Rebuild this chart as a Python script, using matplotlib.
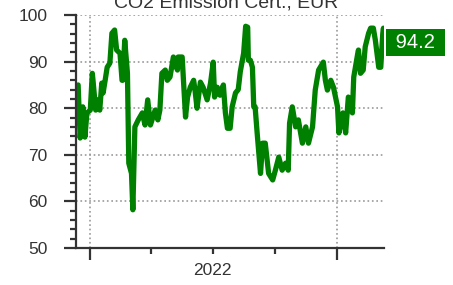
import pandas as pd
import matplotlib.pyplot as plt
import matplotlib.dates as mdates
import matplotlib.transforms as mtransforms
from matplotlib.ticker import MultipleLocator, FuncFormatter, NullFormatter

plt.rcParams['font.family'] = ['Liberation Sans', 'DejaVu Sans']

TITLE = "CO2 Emission Cert., EUR"
LAST_LABEL = "94.2"

dates = [
    "2021-12-14", "2021-12-17", "2021-12-21", "2021-12-24", "2021-12-27", "2022-01-01",
    "2022-01-04", "2022-01-05", "2022-01-09", "2022-01-12", "2022-01-15", "2022-01-18",
    "2022-01-20", "2022-01-23", "2022-01-26", "2022-01-30", "2022-02-02", "2022-02-06",
    "2022-02-09", "2022-02-14", "2022-02-17", "2022-02-18", "2022-02-21", "2022-02-25",
    "2022-02-27", "2022-03-03", "2022-03-05", "2022-03-08", "2022-03-13", "2022-03-19",
    "2022-03-23", "2022-03-27", "2022-03-31", "2022-04-07", "2022-04-11", "2022-04-14",
    "2022-04-17", "2022-04-22", "2022-04-25", "2022-04-29", "2022-05-04", "2022-05-10",
    "2022-05-11", "2022-05-17", "2022-05-22", "2022-05-25", "2022-05-29", "2022-06-03",
    "2022-06-05", "2022-06-08", "2022-06-13", "2022-06-17", "2022-06-23", "2022-06-28",
    "2022-07-02", "2022-07-04", "2022-07-08", "2022-07-12", "2022-07-17", "2022-07-20",
    "2022-07-23", "2022-07-27", "2022-07-30", "2022-08-04", "2022-08-08", "2022-08-11",
    "2022-08-16", "2022-08-19", "2022-08-22", "2022-08-23", "2022-08-26", "2022-08-29",
    "2022-08-31", "2022-09-02", "2022-09-05", "2022-09-10", "2022-09-13", "2022-09-17",
    "2022-09-22", "2022-09-28", "2022-10-02", "2022-10-07", "2022-10-12", "2022-10-17",
    "2022-10-21", "2022-10-23", "2022-10-27", "2022-11-01", "2022-11-05", "2022-11-11",
    "2022-11-16", "2022-11-20", "2022-11-26", "2022-11-30", "2022-12-05", "2022-12-12",
    "2022-12-15", "2022-12-18", "2022-12-23", "2022-12-27", "2023-01-02", "2023-01-04",
    "2023-01-10", "2023-01-14", "2023-01-18", "2023-01-24", "2023-01-26", "2023-02-01",
    "2023-02-02", "2023-02-05", "2023-02-09", "2023-02-12", "2023-02-17", "2023-02-20",
    "2023-02-24", "2023-02-27", "2023-03-04", "2023-03-07", "2023-03-10", "2023-03-11",
    "2023-03-12",
]
prices = [
    85.0, 73.6, 80.3, 73.8, 79.0, 79.6,
    87.5, 86.0, 79.6, 81.8, 79.6, 85.4,
    83.3, 86.0, 88.8, 89.7, 96.1, 96.8,
    92.5, 91.8, 86.0, 86.0, 94.6, 87.5,
    68.2, 66.0, 58.2, 76.0, 77.5, 79.0,
    76.4, 81.8, 76.4, 79.6, 77.5, 79.6,
    87.5, 88.2, 86.0, 86.7, 91.0, 88.2,
    91.0, 91.0, 78.1, 82.4, 84.5, 86.0,
    83.9, 80.0, 85.6, 84.5, 81.8, 85.4,
    89.9, 82.4, 84.5, 82.8, 85.0, 79.0,
    75.7, 75.7, 80.3, 83.3, 84.0, 87.8,
    91.8, 97.6, 97.4, 90.3, 90.3, 88.8,
    80.3, 80.3, 74.7, 66.0, 72.5, 72.5,
    66.0, 64.6, 66.7, 69.5, 66.7, 68.2,
    66.7, 76.8, 80.3, 76.0, 77.5, 72.5,
    76.0, 72.5, 76.0, 83.9, 88.2, 89.9,
    86.0, 83.9, 86.0, 84.5, 80.3, 74.7,
    79.0, 74.7, 82.4, 79.0, 86.7, 91.8,
    92.5, 87.5, 88.2, 93.2, 96.1, 97.2,
    97.2, 94.6, 88.8, 88.8, 96.1, 97.2,
    94.2,
]
x_start = "2021-12-11"
x_end = "2023-03-12"

df = pd.DataFrame({"date": pd.to_datetime(dates), "price": prices})

fig = plt.figure(figsize=(4.53, 2.85), dpi=100)
ax = fig.add_axes([0.168, 0.13, 0.68, 0.817])

ax.plot(df["date"], df["price"], color="#008000", linewidth=3.8,
        solid_joinstyle="round", solid_capstyle="round")

ax.set_ylim(50, 100)
ax.set_xlim(pd.Timestamp(x_start), pd.Timestamp(x_end))

ax.yaxis.set_major_locator(MultipleLocator(10))
ax.yaxis.set_minor_locator(MultipleLocator(2))
ax.xaxis.set_major_locator(mdates.YearLocator())
ax.xaxis.set_minor_locator(mdates.MonthLocator(bymonth=(4, 7, 10)))
ax.xaxis.set_major_formatter(NullFormatter())
ax.xaxis.set_minor_formatter(FuncFormatter(
    lambda v, pos: mdates.num2date(v).strftime("%Y") if mdates.num2date(v).month == 7 else ""))

for side in ["top", "right"]:
    ax.spines[side].set_visible(False)
for side in ["left", "bottom"]:
    ax.spines[side].set_color("#333333")
    ax.spines[side].set_linewidth(1.6)

ax.tick_params(axis="both", which="major", direction="out", length=8.5, width=1.6,
               color="#333333", labelsize=12.5, labelcolor="#333333")
ax.tick_params(axis="both", which="minor", direction="out", length=4.5, width=1.6,
               color="#333333", labelsize=12.5, labelcolor="#333333")
ax.tick_params(axis="y", which="major", pad=12)
ax.tick_params(axis="x", which="minor", pad=6)

ax.grid(True, which="major", color="#999999", linestyle=":", linewidth=1.2)
ax.set_axisbelow(True)

# last value tag
trans = mtransforms.blended_transform_factory(ax.transAxes, ax.transData)
ax.text(1.102, prices[-1], " " + LAST_LABEL + " ", transform=trans, color="white",
        fontsize=14.5, va="center", ha="center", clip_on=False,
        bbox=dict(boxstyle="square,pad=0.2", facecolor="#008000", edgecolor="none"))

fig.text(0.499, 0.975, TITLE, ha="center", va="baseline", fontsize=14, color="#333333")

fig.savefig("out.png", dpi=100)
